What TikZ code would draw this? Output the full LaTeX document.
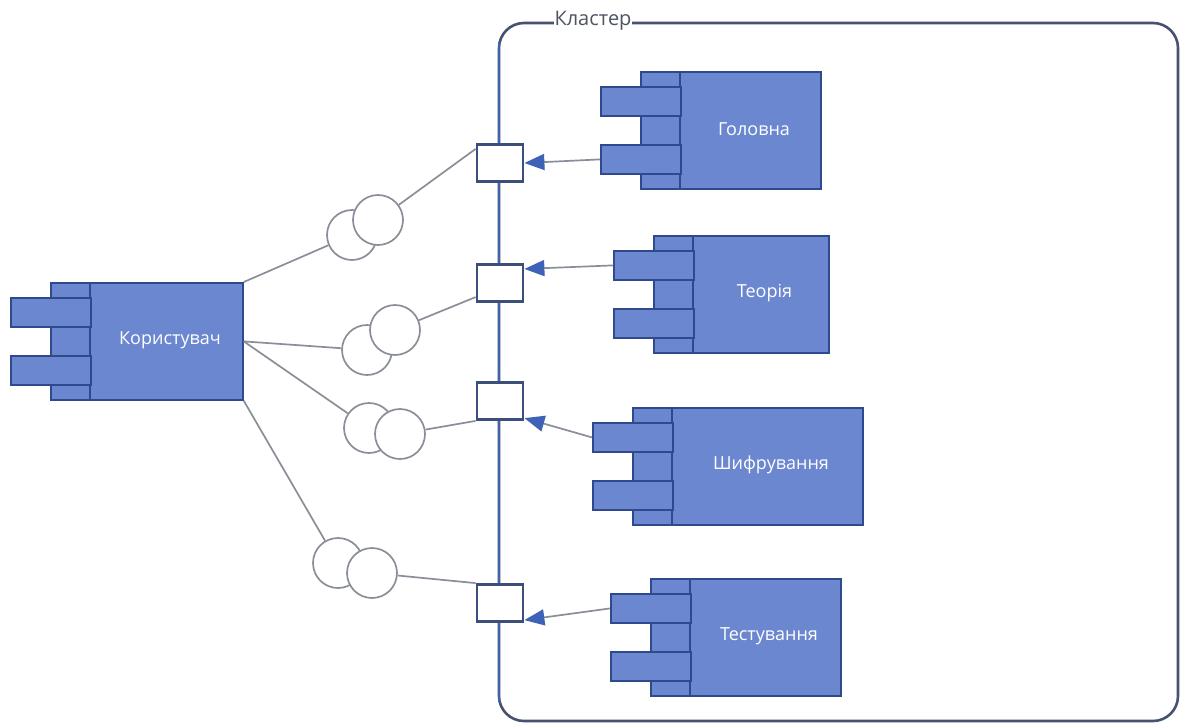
\documentclass[tikz,border=0pt]{standalone}
\usepackage{fontspec}
\setmainfont{Open Sans}
\usetikzlibrary{arrows.meta}
\usepackage{xcolor}
\definecolor{compblue}{RGB}{107,135,207}
\definecolor{compline}{RGB}{47,74,140}
\definecolor{portline}{RGB}{60,78,122}
\definecolor{edgeblue}{RGB}{64,98,174}
\definecolor{wiregray}{RGB}{138,142,152}
\definecolor{tipblue}{RGB}{61,98,184}
\definecolor{framegray}{RGB}{70,82,112}
\definecolor{labelgray}{RGB}{78,84,98}

% Komponente: Name, x, y (oben links), Breite, Text
\newcommand{\komp}[5]{%
	\node[body, minimum width=#4pt, anchor=north west] (#1) at (#2,#3) {};
	\draw[compline, line width=1.8pt] (#2+40,#3) -- (#2+40,#3+117);
	\node[tab, anchor=north west] (#1-t1) at (#2-40,#3+15) {};
	\node[tab, anchor=north west] (#1-t2) at (#2-40,#3+73) {};
	\node[komptext] (#1-text) at ({#2+40+(#4-40)/2+4},#3+58) {#5};
}

\begin{document}
\begin{tikzpicture}[x=1pt, y=-1pt,
		body/.style={draw=compline, fill=compblue, line width=1.8pt, minimum height=117pt, inner sep=0pt},
		tab/.style={draw=compline, fill=compblue, line width=1.8pt, minimum width=80pt, minimum height=29pt, inner sep=0pt},
		komptext/.style={text=white, font=\fontsize{18}{21}\selectfont},
		port/.style={draw=portline, fill=white, line width=2.8pt, minimum width=46pt, minimum height=37pt, inner sep=0pt},
		iface/.style={circle, draw=wiregray, fill=white, line width=1.7pt, minimum size=50pt, inner sep=0pt},
		wire/.style={wiregray, line width=1.7pt},
		pfeil/.style={wiregray, line width=1.7pt, -{Triangle[length=20pt, width=16pt, color=tipblue]}}]
	% Bildbereich
	\fill[white] (0,0) rectangle (1183,724);
	\useasboundingbox (0,0) rectangle (1183,724);
	% Rahmen
	\draw[framegray, line width=2.6pt, rounded corners=25pt] (499,23) rectangle (1178,721);
	\draw[edgeblue, line width=2.6pt] (499,42) -- (499,702);
	\node[fill=white, text=labelgray, inner xsep=1pt, inner ysep=0pt, font=\fontsize{20}{22}\selectfont] (kl) at (593,21) {Кластер};
	% Komponenten
	\komp{user}{50}{282}{192}{Користувач}
	\komp{gol}{640}{71}{180}{Головна}
	\komp{teo}{653}{235}{175}{Теорія}
	\komp{shi}{632}{407}{230}{Шифрування}
	\komp{tes}{650}{578}{190}{Тестування}
	% Ports
	\foreach \n/\y in {1/163, 2/283, 3/401, 4/603}
		\node[port] (p\n) at (500,\y) {};
	% Schnittstellen
	\node[iface] (a1) at (352,235) {};
	\node[iface] (b1) at (378,220) {};
	\node[iface] (a2) at (367,350) {};
	\node[iface] (b2) at (395,330) {};
	\node[iface] (a3) at (369,428) {};
	\node[iface] (b3) at (400,434) {};
	\node[iface] (a4) at (338,563) {};
	\node[iface] (b4) at (372,573) {};
	% Verbindungen
	\draw[wire] (user.north east) -- (a1);
	\draw[wire] (user.east) -- (a2);
	\draw[wire] (user.east) -- (a3);
	\draw[wire] (user.south east) -- (a4);
	\draw[wire] (b1) -- (p1.150);
	\draw[wire] (b2) -- (p2.210);
	\draw[wire] (b3) -- (p3.south west);
	\draw[wire] (b4) -- (p4.north west);
	% Pfeile
	\draw[pfeil] (gol-t2.west) -- (p1.east);
	\draw[pfeil] (teo-t1.west) -- (p2.30);
	\draw[pfeil] (shi-t1.west) -- (p3.-35);
	\draw[pfeil] (tes-t1.west) -- (p4.-35);
\end{tikzpicture}
\end{document}
